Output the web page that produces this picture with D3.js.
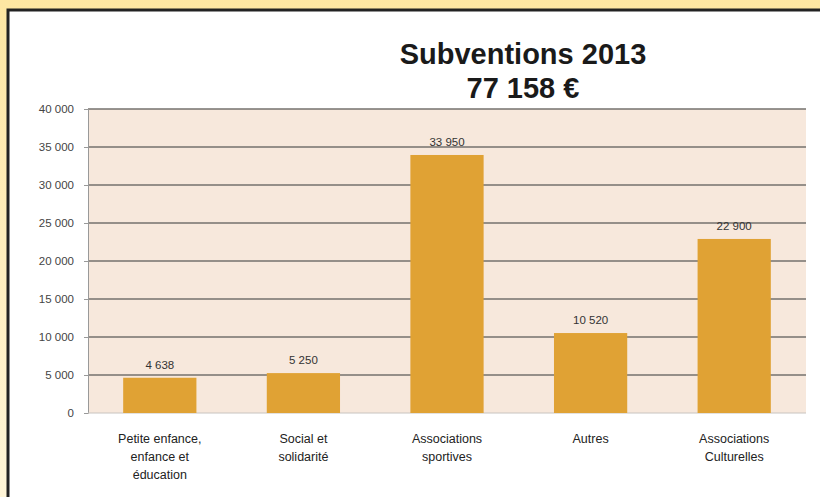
<!DOCTYPE html>
<html>
<head>
<meta charset="utf-8">
<script src="https://cdn.jsdelivr.net/npm/d3@7"></script>
<style>
  html, body { margin: 0; padding: 0; }
  body { width: 820px; height: 497px; overflow: hidden; }
  text { font-family: "Liberation Sans", Arial, sans-serif; }
</style>
</head>
<body>
<div id="vis"></div>
<script>
// data
const categories = [
  ["Petite enfance,", "enfance et", "éducation"],
  ["Social et", "solidarité"],
  ["Associations", "sportives"],
  ["Autres"],
  ["Associations", "Culturelles"]
];
const values = [4638, 5250, 33950, 10520, 22900];
const valueLabels = ["4 638", "5 250", "33 950", "10 520", "22 900"];
const yTicks = [0, 5000, 10000, 15000, 20000, 25000, 30000, 35000, 40000];
const titleLines = ["Subventions 2013", "77 158 €"];

const W = 820, H = 497;
let margin = { top: 109, left: 88, right: 14, bottom: 84 },
  width = W - margin.left - margin.right,
  height = H - margin.top - margin.bottom;

let svg = d3.select('#vis')
  .append('svg')
  .attr('width', W)
  .attr('height', H);

// yellow frame + white panel
let defs = svg.append('defs');
let grad = defs.append('linearGradient')
  .attr('id', 'frame')
  .attr('x1', 0).attr('y1', 0).attr('x2', 0).attr('y2', 1);
grad.append('stop').attr('offset', '0%').attr('stop-color', '#fde6a2');
grad.append('stop').attr('offset', '100%').attr('stop-color', '#fff5d8');

svg.append('rect')
  .attr('width', W).attr('height', H)
  .attr('fill', 'url(#frame)');

svg.append('rect')
  .attr('x', 8).attr('y', 10)
  .attr('width', W).attr('height', H)
  .attr('fill', '#fff')
  .attr('stroke', '#222')
  .attr('stroke-width', 3);

let g = svg.append('g')
  .attr('transform', `translate(${margin.left},${margin.top})`);

const x = d3.scaleBand()
  .domain(d3.range(values.length))
  .range([0, width])
  .paddingInner(0.49)
  .paddingOuter(0.245);

const y = d3.scaleLinear()
  .domain([0, 40000])
  .range([height, 0]);

// plot background
g.append('rect')
  .attr('width', width)
  .attr('height', height)
  .attr('fill', '#f7e8dc');

// gridlines
g.selectAll('.grid')
  .data(yTicks.filter(d => d > 0))
  .enter()
  .append('line')
  .attr('x1', 0).attr('x2', width)
  .attr('y1', d => y(d)).attr('y2', d => y(d))
  .attr('stroke', '#75726e')
  .attr('stroke-width', 1.6);

// y axis
let yAxis = g.append('g')
  .call(d3.axisLeft(y).tickValues(yTicks).tickSize(4).tickPadding(10)
    .tickFormat(d => d3.format(',')(d).replace(/,/g, ' ')));
yAxis.select('.domain').attr('stroke', '#999');
yAxis.selectAll('.tick line').attr('stroke', '#999');
yAxis.selectAll('text')
  .attr('fill', '#444')
  .style('font-size', '11.5px');

// x baseline
g.append('line')
  .attr('x1', 0).attr('x2', width)
  .attr('y1', height).attr('y2', height)
  .attr('stroke', '#c8c4c0')
  .attr('stroke-width', 1);

// bars
g.selectAll('.bar')
  .data(values)
  .enter()
  .append('rect')
  .attr('x', (d, i) => x(i))
  .attr('y', d => y(d))
  .attr('width', x.bandwidth())
  .attr('height', d => height - y(d))
  .attr('fill', '#e0a234');

// value labels
g.selectAll('.val')
  .data(values)
  .enter()
  .append('text')
  .attr('x', (d, i) => x(i) + x.bandwidth() / 2)
  .attr('y', d => y(d) - 9)
  .attr('text-anchor', 'middle')
  .attr('fill', '#333')
  .style('font-size', '11.5px')
  .text((d, i) => valueLabels[i]);

// category labels
let cat = g.selectAll('.cat')
  .data(categories)
  .enter()
  .append('text')
  .attr('text-anchor', 'middle')
  .attr('fill', '#222')
  .style('font-size', '12.5px')
  .attr('transform', (d, i) => `translate(${x(i) + x.bandwidth() / 2},${height + 30})`);
cat.selectAll('tspan')
  .data(d => d)
  .enter()
  .append('tspan')
  .attr('x', 0)
  .attr('y', (d, i) => i * 18)
  .text(d => d);

// title
svg.selectAll('.title')
  .data(titleLines)
  .enter()
  .append('text')
  .attr('x', 523)
  .attr('y', (d, i) => 64 + i * 34)
  .attr('text-anchor', 'middle')
  .attr('fill', '#1a1a1a')
  .style('font-size', '29px')
  .style('font-weight', 'bold')
  .text(d => d);
</script>
</body>
</html>
